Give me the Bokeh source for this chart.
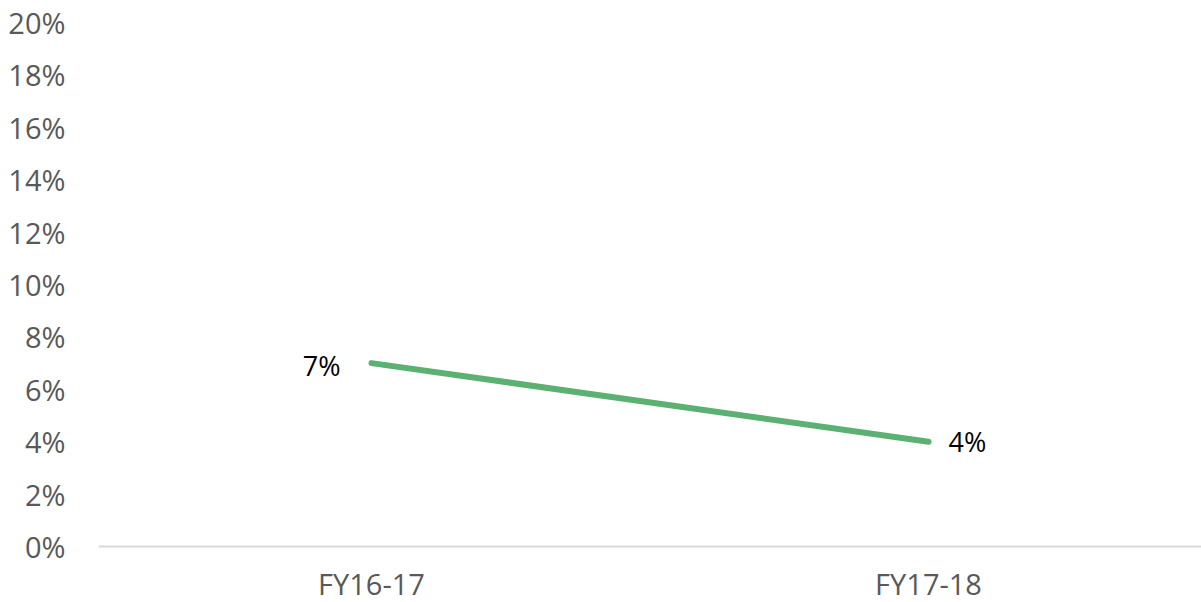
from bokeh.plotting import figure
from bokeh.models import FactorRange, Range1d, FixedTicker, NumeralTickFormatter, ColumnDataSource, Span
from bokeh.core.properties import value
from bokeh.embed import file_html
from bokeh.resources import INLINE

categories = ["FY16-17", "FY17-18"]
growth = [0.07, 0.04]
labels = ["7%", "4%"]
y_ticks = [0.0, 0.02, 0.04, 0.06, 0.08, 0.10, 0.12, 0.14, 0.16, 0.18, 0.20]

FONT = "Open Sans"

p = figure(
    width=1201, height=602,
    x_range=FactorRange(factors=categories, range_padding=-0.01, range_padding_units="absolute"),
    y_range=Range1d(-0.02137, 0.20),
    output_backend="svg", toolbar_location=None,
    min_border_left=98, min_border_right=0, min_border_top=22, min_border_bottom=0,
)
p.outline_line_color = None
p.xgrid.grid_line_color = None
p.ygrid.grid_line_color = None
p.background_fill_color = "white"
p.border_fill_color = "white"

# y axis
p.yaxis.ticker = FixedTicker(ticks=y_ticks)
p.yaxis.formatter = NumeralTickFormatter(format="0%")
p.yaxis.axis_line_color = None
p.yaxis.major_tick_line_color = None
p.yaxis.minor_tick_line_color = None
p.yaxis.major_tick_out = 0
p.yaxis.major_tick_in = 0
p.yaxis.major_label_standoff = 33
p.yaxis.major_label_text_font = FONT
p.yaxis.major_label_text_font_size = "29px"
p.yaxis.major_label_text_color = "#595959"

# x axis: baseline + category labels placed through the scales
p.xaxis.visible = False
p.add_layout(Span(location=0, dimension="width", line_color="#d9d9d9", line_width=2))

cat_src = ColumnDataSource(dict(x=categories, y=[0.0] * len(categories), t=categories))
p.text("x", "y", text="t", source=cat_src, y_offset=37,
       text_align="center", text_baseline="middle",
       text_font=value(FONT), text_font_size="29px", text_color="#595959")

src = ColumnDataSource(dict(x=categories, y=growth, label=labels))
p.line("x", "y", source=src, line_color="#5BB172", line_width=6, line_cap="round")

src1 = ColumnDataSource(dict(x=categories[:1], y=growth[:1], label=labels[:1]))
src2 = ColumnDataSource(dict(x=categories[1:], y=growth[1:], label=labels[1:]))
p.text("x", "y", text="label", source=src1, x_offset=-31, y_offset=2,
       text_align="right", text_baseline="middle",
       text_font=value(FONT), text_font_size="27px", text_color="#000000")
p.text("x", "y", text="label", source=src2, x_offset=20, y_offset=0,
       text_align="left", text_baseline="middle",
       text_font=value(FONT), text_font_size="27px", text_color="#000000")

open("out.html", "w").write(file_html(p, INLINE))
